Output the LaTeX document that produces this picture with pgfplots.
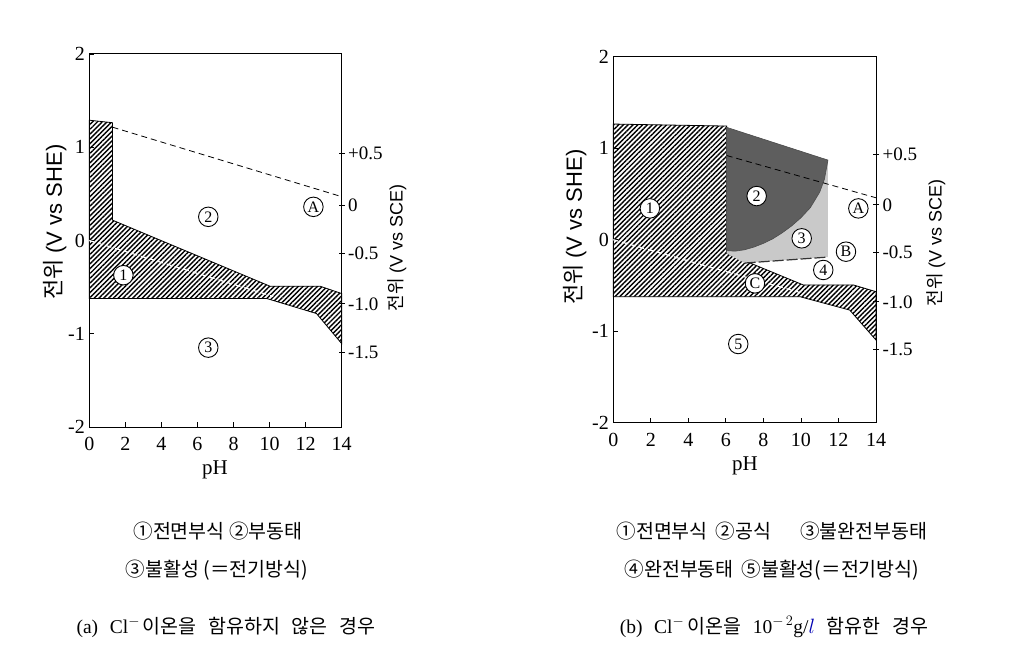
\documentclass[border=0pt]{standalone}
\usepackage{pgfplots}
\pgfplotsset{compat=1.18}
\usetikzlibrary{patterns.meta}
\usepackage{fontspec}
\setmainfont{Liberation Serif}
\setsansfont{Liberation Sans}
\newfontfamily\kr{Noto Sans CJK KR}
\definecolor{darkfill}{gray}{0.37}
\definecolor{lightfill}{gray}{0.79}
\tikzset{
  hatch/.style={draw=black, line width=0.8pt, pattern={Lines[angle=45,distance=3.4pt,line width=1.4pt]}, pattern color=black},
  clab/.style={circle, draw=black, line width=0.9pt, fill=white, inner sep=0pt, minimum size=19.5pt, font=\fontsize{16}{16}\selectfont},
}
\newcommand{\cl}[3]{\node[clab] at (axis cs:#1,#2) {#3};}
\newcommand{\wsp}{\hspace{0.6em}}
\pgfplotsset{
  pourbaix/.style={
    scale only axis, anchor=south west,
    xmin=0, xmax=14, ymin=-2, ymax=2,
    xtick={0,2,4,6,8,10,12,14}, xticklabels={0,2,4,6,8,10,12,14},
    ytick={-2,-1,0,1,2}, yticklabels={-2,-1,0,1,2},
    xtick pos=bottom, ytick pos=left,
    tick align=inside, major tick length=5pt,
    axis line style={line width=1pt},
    every tick/.style={line width=0.9pt, black},
    ticklabel style={font=\fontsize{20}{20}\selectfont},
    xticklabel style={yshift=-7pt},
    yticklabel style={xshift=-1pt},
    clip=false,
  },
  sce/.style={
    scale only axis, anchor=south west,
    xmin=0, xmax=14, ymin=-2, ymax=2,
    axis x line=none, axis y line*=right,
    ytick={0.93,0.38,-0.14,-0.68,-1.20},
    yticklabels={{+0.5},{0},{-0.5},{-1.0},{-1.5}},
    tick align=center, major tick length=6pt,
    axis line style={line width=1pt},
    every tick/.style={line width=0.9pt, black},
    ticklabel style={font=\fontsize{19}{19}\selectfont},
  },
}
\begin{document}
\begin{tikzpicture}
\path[use as bounding box] (0,0) rectangle (1012pt,-652pt);

% ---------------- (a) ----------------
\begin{axis}[pourbaix, at={(89.3pt,-427pt)}, width=252.4pt, height=373pt]
\addplot[hatch] coordinates {(0,1.29) (1.29,1.263) (1.29,0.218) (10.02,-0.49) (12.8,-0.49) (14,-0.569) (14,-1.106) (12.6,-0.783) (9.84,-0.622) (0,-0.622)} -- cycle;
\addplot[black, line width=0.8pt, dash pattern=on 6pt off 4pt] coordinates {(1.29,1.215) (14,0.47)};
\addplot[white, line width=1.2pt, dash pattern=on 5pt off 4pt] coordinates {(0,0) (10.2,-0.6)};
\cl{6.6}{0.254}{2}
\cl{12.43}{0.361}{A}
\cl{1.89}{-0.372}{1}
\cl{6.6}{-1.149}{3}
\end{axis}
\begin{axis}[sce, at={(89.3pt,-427pt)}, width=252.4pt, height=373pt]
\end{axis}

% ---------------- (b) ----------------
\begin{axis}[pourbaix, at={(613.3pt,-422.7pt)}, width=262.7pt, height=366pt]
\addplot[hatch] coordinates {(0,1.264) (6.04,1.242) (6.04,-0.149) (10.13,-0.495) (12.8,-0.495) (14,-0.568) (14,-1.097) (12.6,-0.769) (9.95,-0.623) (0,-0.623)} -- cycle;
\addplot[draw=none, fill=lightfill] coordinates {(6.04,1.228) (11.44,0.87) (11.44,-0.19) (7.0,-0.255) (6.04,-0.149)} -- cycle;
\addplot[draw=black!70, line width=0.6pt, fill=darkfill] coordinates {(6.04,1.228) (11.44,0.87) (11.25,0.66) (11.0,0.52) (10.5,0.35) (10.0,0.24) (9.5,0.15) (9.0,0.075) (8.5,0.01) (8.0,-0.04) (7.5,-0.08) (7.0,-0.11) (6.5,-0.125) (6.04,-0.12)} -- cycle;
\addplot[black, line width=0.8pt, dash pattern=on 6pt off 4pt] coordinates {(6.04,0.92) (14,0.458)};
\addplot[black!80, line width=1.2pt, dash pattern=on 11pt off 3pt] coordinates {(7.0,-0.255) (11.44,-0.19)};
\addplot[white, line width=1.2pt, dash pattern=on 5pt off 4pt] coordinates {(0,0) (10.0,-0.58)};
\cl{1.95}{0.342}{1}
\cl{7.64}{0.477}{2}
\cl{10.04}{0.015}{3}
\cl{13.06}{0.342}{A}
\cl{12.4}{-0.131}{B}
\cl{11.19}{-0.331}{4}
\cl{7.55}{-0.477}{C}
\cl{6.66}{-1.14}{5}
\end{axis}
\begin{axis}[sce, at={(613.3pt,-422.7pt)}, width=262.7pt, height=366pt]
\end{axis}

% ---------------- axis labels ----------------
\node[rotate=90, font=\fontsize{22}{22}\selectfont] at (55pt,-222pt) {{\kr 전위} \textsf{(V vs SHE)}};
\node[rotate=90, font=\fontsize{22}{22}\selectfont] at (575pt,-227pt) {{\kr 전위} \textsf{(V vs SHE)}};
\node[rotate=90, font=\fontsize{18}{18}\selectfont] at (397pt,-248pt) {{\kr 전위} \textsf{(V vs SCE)}};
\node[rotate=90, font=\fontsize{18}{18}\selectfont] at (936pt,-243pt) {{\kr 전위} \textsf{(V vs SCE)}};
\node[font=\fontsize{21}{21}\selectfont] at (215pt,-470pt) {pH};
\node[font=\fontsize{21}{21}\selectfont] at (745pt,-466pt) {pH};

% ---------------- captions ----------------
\begin{scope}[every node/.style={font=\kr\fontsize{19.5}{19.5}\selectfont}]
\node at (218pt,-531pt) {①전면부식 ②부동태};
\node at (217pt,-570pt) {③불활성 (＝전기방식)};
\node at (226pt,-627pt) {{\rmfamily (a)\wsp Cl$^{-}$}\hspace{0.15em}이온을\wsp 함유하지\wsp 않은\wsp 경우};
\node at (772pt,-531pt) {①전면부식\hspace{0.4em}②공식\hspace{1.5em}③불완전부동태};
\node at (772pt,-570pt) {④완전부동태\hspace{0.4em}⑤불활성(＝전기방식)};
\node at (774pt,-627pt) {{\rmfamily (b)\wsp Cl$^{-}$}\hspace{0.15em}이온을\wsp {\rmfamily 10$^{-\,2}$g/\textcolor{blue!70!black}{$l$}}\wsp 함유한\wsp 경우};
\end{scope}
\end{tikzpicture}
\end{document}
